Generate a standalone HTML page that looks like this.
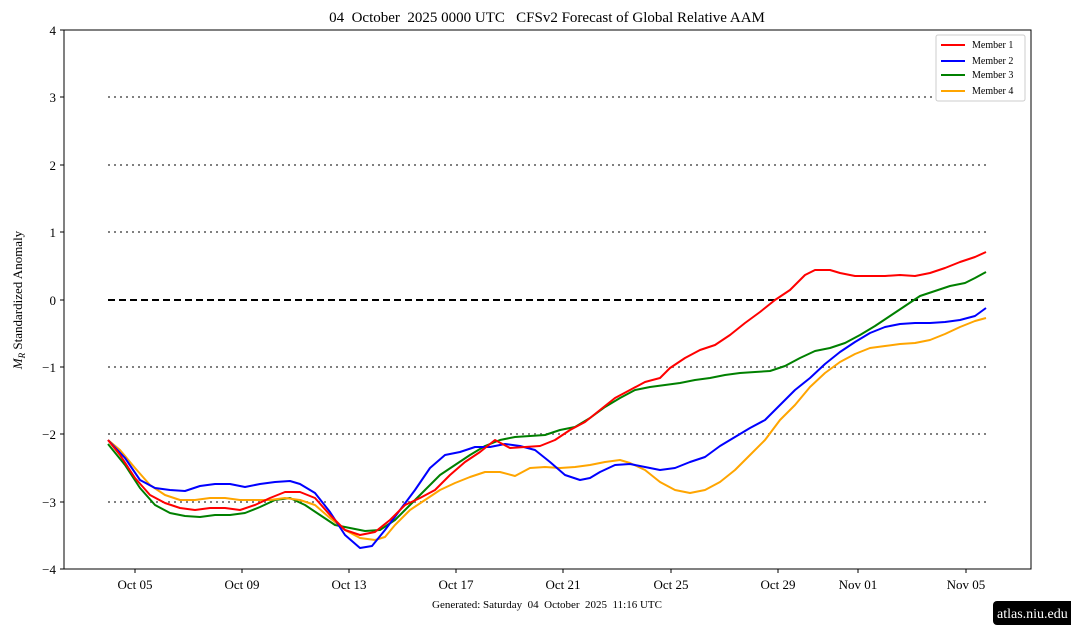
<!DOCTYPE html>
<html><head><style>body{margin:0;background:#fff}svg{display:block}</style></head>
<body>
<svg width="1071" height="638" viewBox="0 0 1071 638" xmlns="http://www.w3.org/2000/svg" font-family="'Liberation Serif',serif">
<rect width="1071" height="638" fill="#fff"/>
<text x="547" y="22" font-size="15" text-anchor="middle">04&#160;&#160;October&#160;&#160;2025 0000 UTC&#160;&#160;&#160;CFSv2 Forecast of Global Relative AAM</text>
<g stroke="#808080" stroke-width="2" stroke-dasharray="2,4">
<line x1="108" x2="986" y1="97" y2="97"/><line x1="108" x2="986" y1="165" y2="165"/><line x1="108" x2="986" y1="232" y2="232"/>
<line x1="108" x2="986" y1="367" y2="367"/><line x1="108" x2="986" y1="434" y2="434"/><line x1="108" x2="986" y1="502" y2="502"/>
</g>
<line x1="108" x2="986" y1="300" y2="300" stroke="#000" stroke-width="2" stroke-dasharray="7,4"/>
<g fill="none" stroke-width="2" stroke-linejoin="round">
<polyline stroke="green" points="108,444 125,465 140,488 155,505 170,513 185,516 200,517 215,515 230,515 245,513 260,507 275,500 290,498 305,505 320,515 335,525 350,528 365,531 380,530 395,520 410,505 425,490 440,475 455,465 470,455 485,446 500,440 515,437 530,436 545,435 560,430 575,427 590,418 605,407 620,398 635,390 650,387 665,385 680,383 695,380 710,378 725,375 740,373 755,372 770,371 785,366 800,358 815,351 830,348 845,343 860,335 875,326 890,316 905,306 920,296 935,291 950,286 965,283 975,278 986,272"/>
<polyline stroke="orange" points="108,440 120,450 135,468 150,485 165,495 180,500 195,500 210,498 225,498 240,500 255,500 270,500 285,498 300,500 315,505 330,518 345,530 360,538 375,540 385,537 395,525 410,510 425,500 440,490 455,483 470,477 485,472 500,472 515,476 530,468 545,467 560,468 575,467 590,465 605,462 620,460 630,463 645,470 660,482 675,490 690,493 705,490 720,482 735,470 750,455 765,440 780,420 795,405 810,387 825,373 840,362 855,354 870,348 885,346 900,344 915,343 930,340 945,334 960,327 975,321 986,318"/>
<polyline stroke="blue" points="108,440 125,458 140,480 155,488 170,490 185,491 200,486 215,484 230,484 245,487 260,484 275,482 290,481 300,484 315,493 330,512 345,535 360,548 372,546 385,530 400,510 415,490 430,468 445,455 460,452 475,447 490,447 505,444 520,446 535,450 550,462 565,475 580,480 590,478 600,472 615,465 630,464 645,467 660,470 675,468 690,462 705,457 720,446 735,437 750,428 765,420 780,405 795,390 810,378 825,364 840,352 855,342 870,333 885,327 900,324 915,323 930,323 945,322 960,320 975,316 986,308"/>
<polyline stroke="red" points="108,440 120,455 135,478 150,495 165,503 180,508 195,510 210,508 225,508 240,510 255,505 270,498 285,492 300,492 315,498 330,515 345,530 360,535 375,532 390,520 405,505 420,498 435,490 450,475 465,462 480,452 495,440 510,448 525,447 540,446 555,440 570,430 585,422 600,410 615,398 630,390 645,382 660,378 670,368 685,358 700,350 715,345 730,335 745,323 760,312 775,300 790,290 805,275 815,270 830,270 840,273 855,276 870,276 885,276 900,275 915,276 930,273 945,268 960,262 975,257 986,252"/>
</g>
<rect x="64" y="30" width="967" height="539" fill="none" stroke="#000" stroke-width="1"/>
<g stroke="#000">
<line x1="60" x2="64" y1="30" y2="30"/><line x1="60" x2="64" y1="97" y2="97"/><line x1="60" x2="64" y1="165" y2="165"/><line x1="60" x2="64" y1="232" y2="232"/><line x1="60" x2="64" y1="300" y2="300"/><line x1="60" x2="64" y1="367" y2="367"/><line x1="60" x2="64" y1="434" y2="434"/><line x1="60" x2="64" y1="502" y2="502"/><line x1="60" x2="64" y1="569" y2="569"/>
<line x1="135" x2="135" y1="569" y2="573"/><line x1="242" x2="242" y1="569" y2="573"/><line x1="349" x2="349" y1="569" y2="573"/><line x1="456" x2="456" y1="569" y2="573"/><line x1="563" x2="563" y1="569" y2="573"/><line x1="671" x2="671" y1="569" y2="573"/><line x1="778" x2="778" y1="569" y2="573"/><line x1="858" x2="858" y1="569" y2="573"/><line x1="966" x2="966" y1="569" y2="573"/>
</g>
<g font-size="13" text-anchor="end">
<text x="56" y="35">4</text><text x="56" y="102">3</text><text x="56" y="170">2</text><text x="56" y="237">1</text><text x="56" y="305">0</text><text x="56" y="372">−1</text><text x="56" y="439">−2</text><text x="56" y="507">−3</text><text x="56" y="574">−4</text>
</g>
<g font-size="13" text-anchor="middle">
<text x="135" y="589">Oct 05</text><text x="242" y="589">Oct 09</text><text x="349" y="589">Oct 13</text><text x="456" y="589">Oct 17</text><text x="563" y="589">Oct 21</text><text x="671" y="589">Oct 25</text><text x="778" y="589">Oct 29</text><text x="858" y="589">Nov 01</text><text x="966" y="589">Nov 05</text>
</g>
<text x="547" y="608" font-size="11" text-anchor="middle">Generated: Saturday&#160;&#160;04&#160;&#160;October&#160;&#160;2025&#160;&#160;11:16 UTC</text>
<text transform="translate(22,300) rotate(-90)" font-size="13" text-anchor="middle"><tspan font-style="italic">M</tspan><tspan font-size="9" font-style="italic" dy="3">R</tspan><tspan dy="-3"> Standardized Anomaly</tspan></text>
<rect x="936" y="35" width="89" height="66" rx="2" fill="#fff" stroke="#ccc"/>
<g stroke-width="2"><line x1="941" x2="965" y1="45" y2="45" stroke="red"/><line x1="941" x2="965" y1="61" y2="61" stroke="blue"/><line x1="941" x2="965" y1="75" y2="75" stroke="green"/><line x1="941" x2="965" y1="91" y2="91" stroke="orange"/></g>
<g font-size="10"><text x="972" y="48">Member 1</text><text x="972" y="64">Member 2</text><text x="972" y="78">Member 3</text><text x="972" y="94">Member 4</text></g>
<rect x="993" y="601" width="85" height="24" rx="4" fill="#000"/>
<text x="997" y="618" font-size="14" fill="#fff">atlas.niu.edu</text>
</svg>
</body></html>
